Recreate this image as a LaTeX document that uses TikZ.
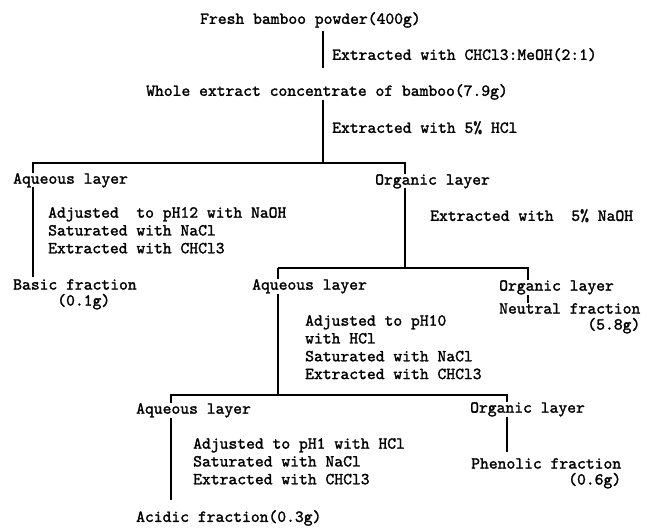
\documentclass[tikz,border=0pt]{standalone}
\usepackage{fontspec}
\newfontfamily\typewriter{lmmono10-regular.otf}[FakeBold=1.6]
\usetikzlibrary{backgrounds}
\tikzset{
  every picture/.style={line join=round, line cap=round},
  txt/.style={anchor=north west, inner sep=0pt, fill=white, align=left,
    font=\typewriter\fontsize{16.8}{17.8}\selectfont},
  frac/.style={txt, font=\typewriter\fontsize{16.8}{16}\selectfont},
  link/.style={line width=1.2pt},
}
\begin{document}
\begin{tikzpicture}[x=1pt, y=-1pt]
    \useasboundingbox (0,0) rectangle (647,527);

    % Extraction of the whole powder
    \node[txt] (fresh) at (200,12) {Fresh bamboo powder(400g)};
    \node[txt] (s1) at (332,48) {Extracted with CHCl3:MeOH(2:1)};
    \node[txt] (whole) at (146,84) {Whole extract concentrate of bamboo(7.9g)};
    \node[txt] (s2) at (332,121) {Extracted with 5\% HCl};

    % First split
    \node[txt] (aq1) at (13,173) {Aqueous layer};
    \node[txt] (org1) at (375,174) {Organic layer};
    \node[txt] (s3) at (48,207) {Adjusted~ to pH12 with NaOH\\Saturated with NaCl\\Extracted with CHCl3};
    \node[txt] (s4) at (430,209) {Extracted with~ 5\% NaOH};
    \node[frac] (basic) at (13,279) {Basic fraction\\\phantom{Basic}(0.1g)};

    % Second split
    \node[txt] (aq2) at (252,279) {Aqueous layer};
    \node[txt] (org2) at (499,280) {Organic layer};
    \node[frac, align=right] (neutral) at (499,303) {Neutral fraction\\(5.8g)};
    \node[txt] (s5) at (305,315) {Adjusted to pH10\\with HCl\\Saturated with NaCl\\Extracted with CHCl3};

    % Third split
    \node[txt] (aq3) at (136,403) {Aqueous layer};
    \node[txt] (org3) at (470,402) {Organic layer};
    \node[txt] (s6) at (193,438) {Adjusted to pH1 with HCl\\Saturated with NaCl\\Extracted with CHCl3};
    \node[frac, align=right] (phenolic) at (471,458) {Phenolic fraction\\(0.6g)};
    \node[txt] (acidic) at (136,510) {Acidic fraction(0.3g)};

    \coordinate (k1) at (323,163);
    \coordinate (k1l) at (33,163);
    \coordinate (k1r) at (405,163);
    \coordinate (k2) at (405,268);
    \coordinate (k2l) at (278,268);
    \coordinate (k2r) at (528,268);
    \coordinate (k3) at (278,395);
    \coordinate (k3l) at (171,395);
    \coordinate (k3r) at (507,395);

    \begin{pgfonlayer}{background}
        \draw[link, shorten <=3pt, shorten >=16pt] (fresh.south -| k1) -- (whole.north -| k1);
        \draw[link] (whole.south -| k1) -- (k1);
        \draw[link, shorten <=2pt] (basic.north -| k1l) -- (k1l) -- (k1r) -- (k2);
        \draw[link] (k2l) -- (k2r) -- (neutral.north -| k2r);
        \draw[link] (k2l) -- (k3);
        \draw[link, shorten <=10pt, shorten >=6pt] (acidic.north -| k3l) -- (k3l) -- (k3r) -- (phenolic.north -| k3r);
    \end{pgfonlayer}
\end{tikzpicture}
\end{document}
